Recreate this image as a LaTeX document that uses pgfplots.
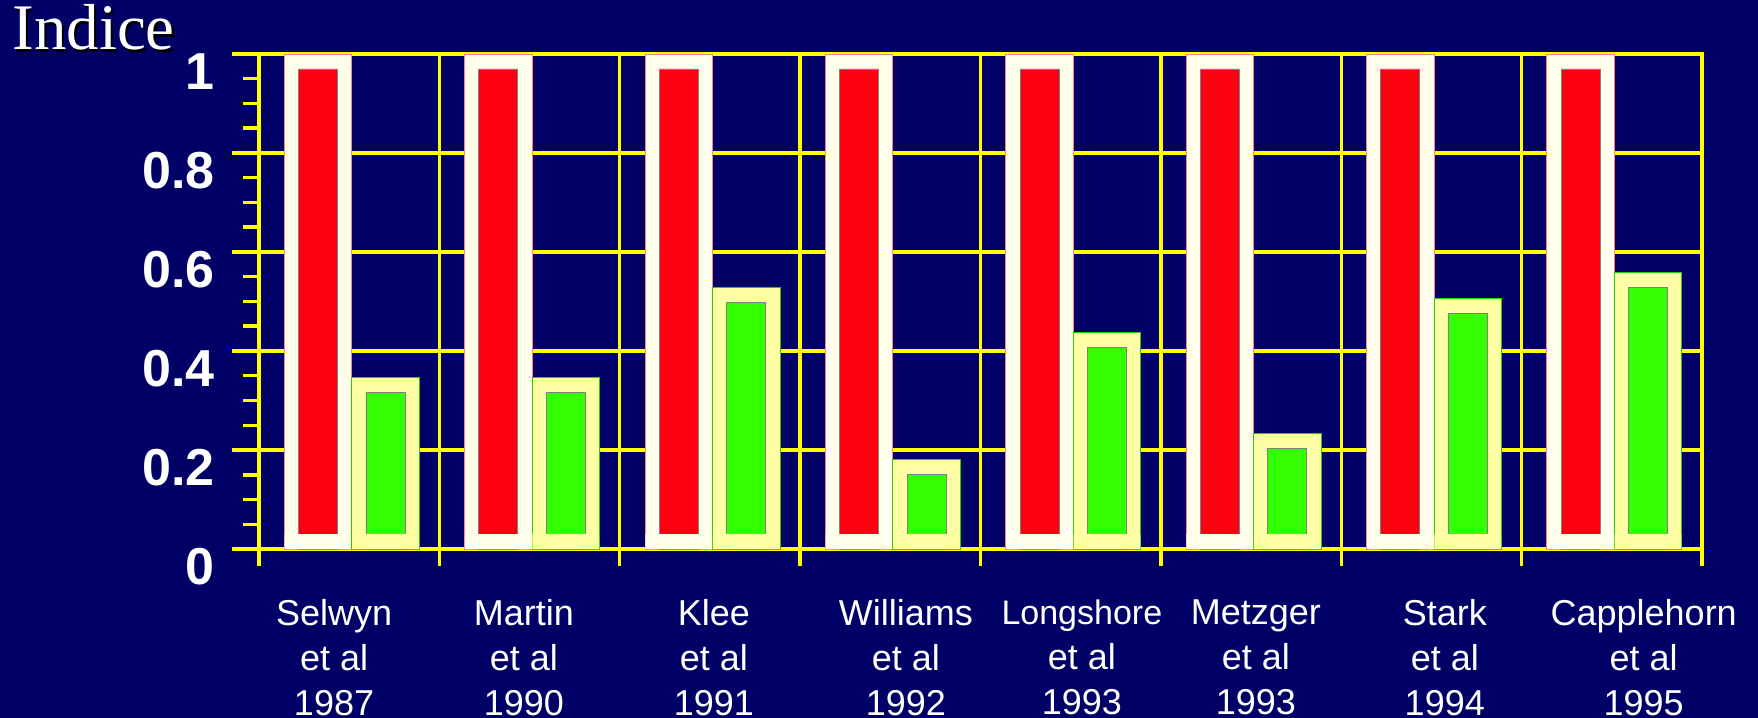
\documentclass[border=0pt]{standalone}
\usepackage{pgfplots}
\pgfplotsset{compat=1.18}
\usepackage{pgfplotstable}
\usepackage{fontspec}
\setmainfont{Liberation Sans}
\newfontfamily\timesfont{Liberation Serif}

\definecolor{navy}{RGB}{0,0,102}
\definecolor{gridyellow}{RGB}{255,255,0}
\definecolor{barred}{RGB}{255,0,17}
\definecolor{bargreen}{RGB}{51,255,0}
\definecolor{redframe}{RGB}{255,255,236}
\definecolor{greenframe}{RGB}{255,255,165}

% outer value of each bar (the frame top)
\pgfplotstableread{
x red green
0 1 0.347
1 1 0.347
2 1 0.529
3 1 0.181
4 1 0.438
5 1 0.234
6 1 0.506
7 1 0.559
}\studies

\begin{document}
\begin{tikzpicture}
\fill[navy] (-129.5pt,-84.5pt) rectangle (749.5pt,274.5pt);

\begin{axis}[
  scale only axis, width=721.5pt, height=247.5pt,
  at={(0,0)}, anchor=south west,
  xmin=-0.5, xmax=7.5, ymin=0, ymax=1,
  axis line style={gridyellow, line width=1.75pt},
  grid=major, major grid style={gridyellow, line width=1.75pt},
  tick pos=left, tick align=outside,
  major tick length=13.5pt, minor tick length=8pt,
  tick style={gridyellow, line width=1.75pt},
  xtick={-0.5,0.5,1.5,2.5,3.5,4.5,5.5,6.5,7.5}, xticklabels={},
  xtick style={yshift=5pt},
  extra x ticks={-0.084,0.969,2.022,3.086,4.062,5.027,6.074,7.177},
  extra x tick labels={{Selwyn\\et al\\1987},{Martin\\et al\\1990},{Klee\\et al\\1991},{Williams\\et al\\1992},{{\fontsize{17}{22.5}\selectfont Longshore}\\et al\\1993},{Metzger\\et al\\1993},{Stark\\et al\\1994},{Capplehorn\\et al\\1995}},
  extra x tick style={grid=none, tick style={draw=none}},
  xticklabel style={font=\fontsize{18}{22.5}\selectfont, text=white, align=center, anchor=north, inner sep=0pt, yshift=-11.5pt},
  ytick={0,0.2,0.4,0.6,0.8,1}, minor y tick num=3,
  yticklabels={0,0.2,0.4,0.6,0.8,1},
  /pgf/number format/assume math mode=true,
  yticklabel style={font=\fontsize{26}{30}\selectfont\bfseries, text=white, anchor=east, inner sep=0pt, yshift=-9pt, xshift=-8.5pt},
]
% red series: frame, inner bar, bottom of frame
\addplot[ybar, bar width=0.374, bar shift=-0.173, fill=redframe, draw=barred!50, line width=0.4pt] table[x=x, y=red] {\studies};
\addplot[ybar, bar width=0.216, bar shift=-0.173, fill=barred, draw=gray, line width=0.4pt] table[x=x, y expr=\thisrow{red}-0.0303] {\studies};
\addplot[ybar, bar width=0.370, bar shift=-0.173, fill=redframe, draw=none] table[x=x, y expr=0.0303] {\studies};
% green series
\addplot[ybar, bar width=0.374, bar shift=0.201, fill=greenframe, draw=bargreen!80!black, line width=0.4pt] table[x=x, y=green] {\studies};
\addplot[ybar, bar width=0.216, bar shift=0.201, fill=bargreen, draw=gray, line width=0.4pt] table[x=x, y expr=\thisrow{green}-0.0303] {\studies};
\addplot[ybar, bar width=0.370, bar shift=0.201, fill=greenframe, draw=none] table[x=x, y expr=0.0303] {\studies};
\end{axis}

\node[anchor=base west, inner sep=0pt, text=black] at (-122.3pt,248.3pt) {\timesfont\fontsize{32.5}{38}\selectfont Indice};
\node[anchor=base west, inner sep=0pt, text=white] at (-123.5pt,249.5pt) {\timesfont\fontsize{32.5}{38}\selectfont Indice};
\end{tikzpicture}
\end{document}
